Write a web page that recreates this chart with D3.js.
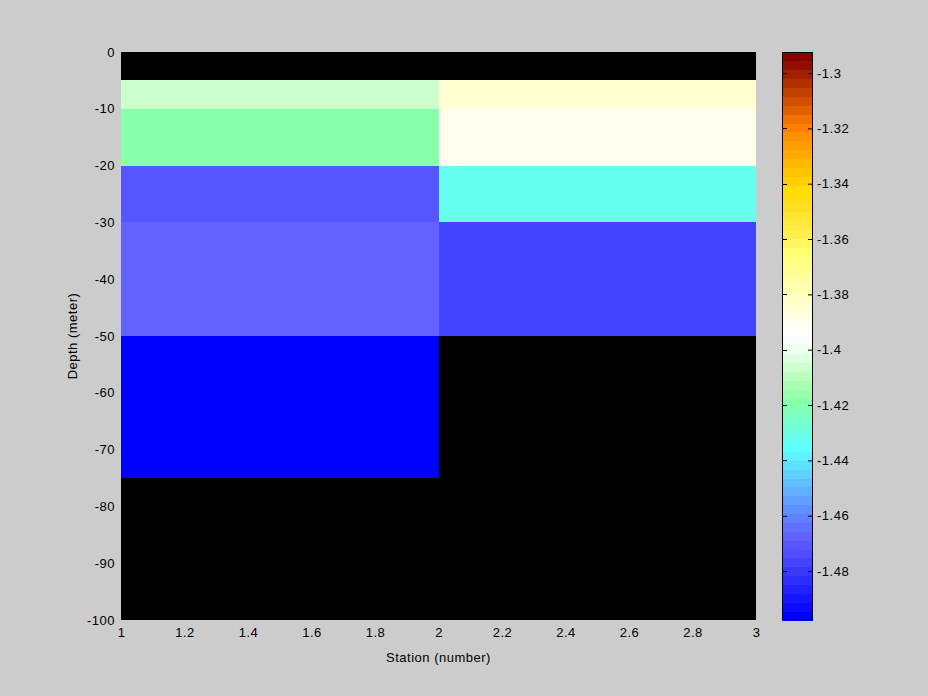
<!DOCTYPE html>
<html><head><meta charset="utf-8">
<script src="https://cdn.jsdelivr.net/npm/d3@7"></script>
<style>body{margin:0;background:#cccccc;} text{font-family:"Liberation Sans",Arial,sans-serif;font-size:13px;letter-spacing:0.5px;fill:#000;}</style>
</head><body>
<script>
// Data
const stationEdges = [1, 2, 3];
const depthEdges = [0, -5, -10, -20, -30, -50, -75, -100];
// values per station (rows = depth bins top->bottom), null = no data
const station1Values = [null, -1.406, -1.419, -1.472, -1.467, -1.496, null];
const station2Values = [null, -1.3838, -1.391, -1.4335, -1.477, null, null];
const xTicks = [1, 1.2, 1.4, 1.6, 1.8, 2, 2.2, 2.4, 2.6, 2.8, 3];
const yTicks = [0, -10, -20, -30, -40, -50, -60, -70, -80, -90, -100];
const cTicks = [-1.3, -1.32, -1.34, -1.36, -1.38, -1.4, -1.42, -1.44, -1.46, -1.48];
const cRange = [-1.4977, -1.2924];
// 64-entry colormap, bottom (low) to top (high)
const cmap = [
 "#0000ff","#0b0bff","#1616ff","#2222ff","#2d2dff","#3838ff","#4444ff","#4f4fff",
 "#5757ff","#6262ff","#6070ff","#6080ff","#6090ff","#60a0ff","#60b0ff","#60c0ff",
 "#60d0ff","#60e0ff","#60f0ff","#60ffff","#66ffee","#70ffdd","#78ffcc","#80ffbb",
 "#88ffaa","#99ffaa","#aaffb4","#bbffc0","#ccffcc","#ddffdd","#eeffee","#f8fff8",
 "#ffffff","#fffff0","#ffffe0","#ffffd0","#ffffc0","#ffffb0","#ffffa0","#ffff90",
 "#ffff80","#ffff70","#fff860","#fff050","#ffe840","#ffe430","#ffe020","#ffdd10",
 "#ffdd00","#ffd000","#ffc400","#ffb800","#ffaa00","#ff9c00","#ff9000","#ff8000",
 "#f07000","#e06000","#d05000","#c04000","#b03000","#a02000","#901000","#880000"];

const W = 928, H = 696;
const FONT = "Liberation Sans, Arial, sans-serif";
const svg = d3.select("body").append("svg").attr("width", W).attr("height", H);
svg.append("rect").attr("width", W).attr("height", H).attr("fill", "#cccccc");

const x = d3.scaleLinear().domain([1, 3]).range([121, 756]);
const y = d3.scaleLinear().domain([0, -100]).range([52, 620]);
const cq = d3.scaleQuantize().domain(cRange).range(cmap);
const fmt = d => String(d);

// axes background
svg.append("rect").attr("x", x(1)).attr("y", y(0)).attr("width", x(3) - x(1)).attr("height", y(-100) - y(0)).attr("fill", "#000");

const cells = [];
[station1Values, station2Values].forEach((vals, si) => {
  vals.forEach((v, di) => {
    if (v !== null) cells.push({x0: stationEdges[si], x1: stationEdges[si + 1], y0: depthEdges[di], y1: depthEdges[di + 1], v});
  });
});
svg.append("g").selectAll("rect").data(cells).join("rect")
  .attr("x", d => x(d.x0)).attr("y", d => y(d.y0))
  .attr("width", d => x(d.x1) - x(d.x0)).attr("height", d => y(d.y1) - y(d.y0))
  .attr("fill", d => cq(d.v)).attr("shape-rendering", "crispEdges");

// axes
const xa = svg.append("g").attr("transform", `translate(0,${y(-100)})`)
  .call(d3.axisBottom(x).tickValues(xTicks).tickFormat(fmt).tickSize(0).tickPadding(8));
const ya = svg.append("g").attr("transform", `translate(${x(1)},0)`)
  .call(d3.axisLeft(y).tickValues(yTicks).tickFormat(fmt).tickSize(0).tickPadding(6));
[xa, ya].forEach(g => { g.select(".domain").remove(); g.selectAll("text").attr("font-size", 13).attr("font-family", FONT).attr("fill", "#000"); });

svg.append("text").attr("x", (x(1) + x(3)) / 2).attr("y", 662).attr("text-anchor", "middle").text("Station (number)");
svg.append("text").attr("transform", `translate(77,${(y(0) + y(-100)) / 2}) rotate(-90)`).attr("text-anchor", "middle").text("Depth (meter)");

// colorbar
const cbX0 = 782, cbX1 = 813;
const cy = d3.scaleLinear().domain(cRange).range([620, 52]);
const n = cmap.length;
const bandH = (cRange[1] - cRange[0]) / n;
svg.append("g").selectAll("rect").data(cmap).join("rect")
  .attr("x", cbX0).attr("width", cbX1 - cbX0)
  .attr("y", (c, i) => cy(cRange[0] + (i + 1) * bandH))
  .attr("height", (c, i) => cy(cRange[0] + i * bandH) - cy(cRange[0] + (i + 1) * bandH) + 0.5)
  .attr("fill", c => c).attr("shape-rendering", "crispEdges");
svg.append("rect").attr("x", cbX0 + 0.5).attr("y", 52.5).attr("width", cbX1 - cbX0 - 1).attr("height", 567)
  .attr("fill", "none").attr("stroke", "#000").attr("stroke-width", 1);
const cb = svg.append("g").attr("transform", `translate(${cbX1},0)`)
  .call(d3.axisRight(cy).tickValues(cTicks).tickFormat(fmt).tickSizeInner(-5).tickSizeOuter(0).tickPadding(5));
cb.select(".domain").remove();
cb.selectAll("line").attr("stroke", "#000");
cb.selectAll("text").attr("font-size", 13).attr("font-family", FONT).attr("fill", "#000").attr("x", 4);
svg.append("g").selectAll("line").data(cTicks).join("line")
  .attr("x1", cbX0).attr("x2", cbX0 + 5).attr("y1", d => Math.round(cy(d)) + 0.5).attr("y2", d => Math.round(cy(d)) + 0.5)
  .attr("stroke", "#000");
</script>
</body></html>
